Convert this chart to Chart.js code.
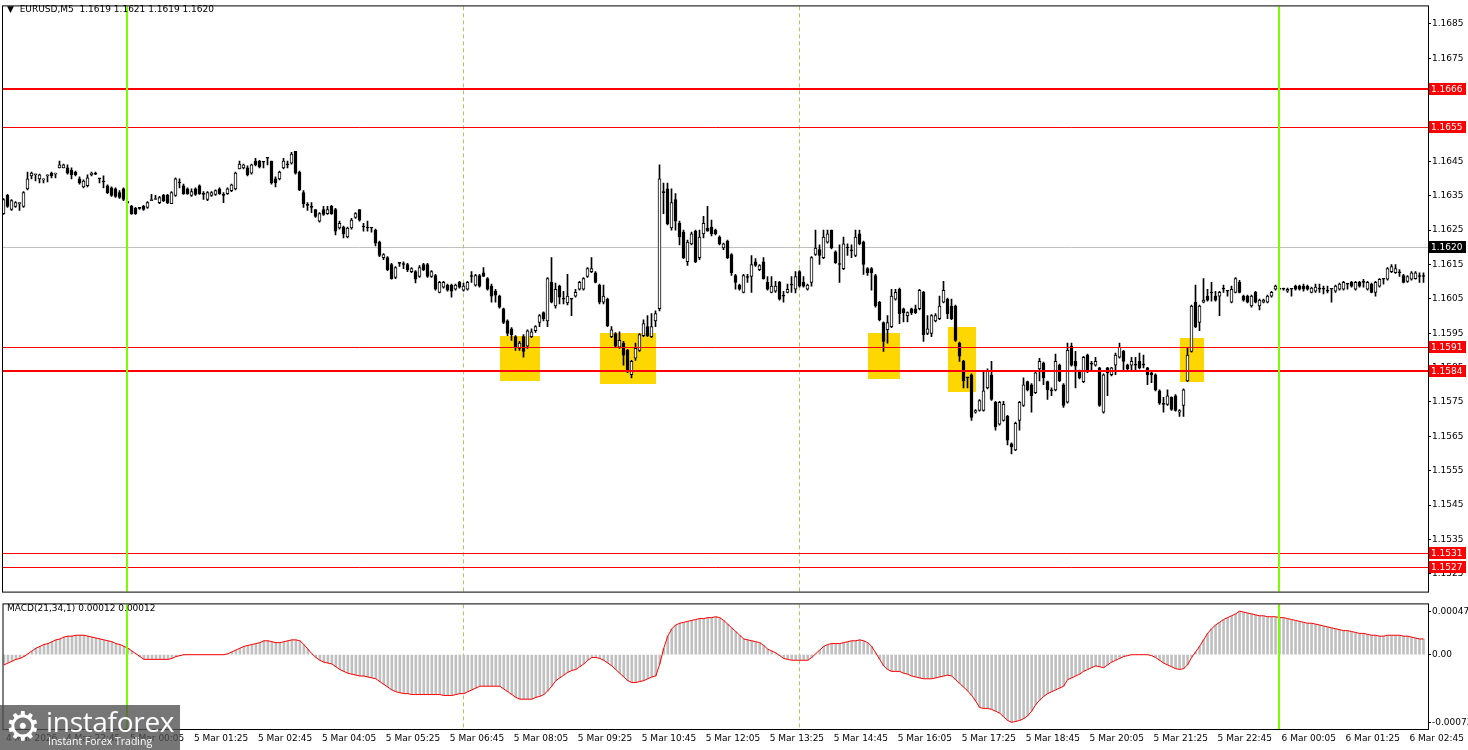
<!DOCTYPE html>
<html>
<head>
<meta charset="utf-8">
<script src="https://cdn.jsdelivr.net/npm/chart.js@4.4.1/dist/chart.umd.min.js"></script>
<style>
  body { margin: 0; background: #fff; width: 1468px; height: 750px; overflow: hidden; position: relative; font-family: "DejaVu Sans", sans-serif; }
  #main { position: absolute; left: 0; top: 0; }
  #macd { position: absolute; left: 0; top: 598px; }
  .lbl { position: absolute; font-size: 9px; color: #000; white-space: pre; }
  #wm { position: absolute; left: 0; top: 705px; width: 180px; height: 45px; background: rgba(80, 80, 80, 0.78); color: #fff; overflow: hidden; }
  #wm .gear { position: absolute; left: 5px; top: -3px; font-size: 40px; line-height: 48px; }
  #wm .name { position: absolute; left: 46px; top: 1px; font-family: "Open Sans", sans-serif; font-size: 28px; line-height: 30px; letter-spacing: -0.3px; }
  #wm .sub { position: absolute; left: 48px; top: 30px; font-family: "Open Sans", sans-serif; font-size: 10.5px; line-height: 13px; }
</style>
</head>
<body>
<canvas id="main" width="1468" height="598"></canvas>
<canvas id="macd" width="1468" height="152"></canvas>
<div class="lbl" style="left:7px;top:4px">&#9660;  EURUSD,M5  1.1619 1.1621 1.1619 1.1620</div>
<div class="lbl" style="left:7px;top:603px">MACD(21,34,1) 0.00012 0.00012</div>
<div id="wm"><span class="gear">&#9881;</span><span class="name">instaforex</span><span class="sub">Instant Forex Trading</span></div>
<script>
// bar index 0 = 5 Mar 01:25, one bar per 5 minutes
const firstBar = -47;

const openP = [
1.16298,1.16351,1.16310,1.16319,1.16327,1.16319,1.16370,1.16408,1.16411,1.16399,
1.16396,1.16408,1.16416,1.16413,1.16431,1.16431,1.16431,1.16425,1.16419,1.16399,
1.16376,1.16379,1.16411,1.16413,1.16399,1.16390,1.16379,1.16373,1.16370,1.16359,
1.16370,1.16330,1.16319,1.16313,1.16313,1.16319,1.16316,1.16336,1.16339,1.16330,
1.16351,1.16351,1.16327,1.16351,1.16387,1.16379,1.16370,1.16351,1.16370,1.16379,
1.16354,1.16339,1.16351,1.16354,1.16370,1.16351,1.16356,1.16365,1.16370,1.16428,
1.16431,1.16431,1.16416,1.16451,1.16451,1.16448,1.16459,1.16451,1.16399,1.16399,
1.16431,1.16440,1.16445,1.16479,1.16419,1.16359,1.16322,1.16316,1.16310,1.16276,
1.16310,1.16298,1.16319,1.16310,1.16256,1.16259,1.16230,1.16256,1.16287,1.16310,
1.16259,1.16256,1.16256,1.16250,1.16215,1.16170,1.16170,1.16150,1.16112,1.16153,
1.16150,1.16150,1.16129,1.16129,1.16115,1.16150,1.16150,1.16115,1.16118,1.16069,
1.16084,1.16090,1.16090,1.16078,1.16098,1.16075,1.16078,1.16115,1.16090,1.16118,
1.16126,1.16109,1.16087,1.16072,1.16058,1.16021,1.15986,1.15963,1.15940,1.15906,
1.15940,1.15912,1.15940,1.15957,1.15981,1.16010,1.15986,1.16098,1.16029,1.16087,
1.16049,1.16038,1.16049,1.16058,1.16078,1.16078,1.16115,1.16129,1.16126,1.16090,
1.16040,1.16049,1.15940,1.15949,1.15909,1.15921,1.15900,1.15829,1.15877,1.15900,
1.15943,1.15969,1.15940,1.15986,1.16021,1.16359,1.16370,1.16256,1.16339,1.16270,
1.16244,1.16158,1.16210,1.16247,1.16170,1.16239,1.16256,1.16259,1.16250,1.16230,
1.16198,1.16218,1.16179,1.16118,1.16090,1.16069,1.16112,1.16115,1.16158,1.16135,
1.16158,1.16098,1.16069,1.16072,1.16098,1.16058,1.16069,1.16090,1.16078,1.16129,
1.16098,1.16078,1.16098,1.16179,1.16193,1.16170,1.16215,1.16250,1.16187,1.16150,
1.16138,1.16198,1.16190,1.16176,1.16239,1.16215,1.16138,1.16138,1.16118,1.16040,
1.15981,1.15960,1.15969,1.16049,1.16078,1.16021,1.16001,1.16021,1.16021,1.16021,
1.16069,1.15949,1.15949,1.15986,1.15992,1.16040,1.16049,1.16029,1.16029,1.15921,
1.15868,1.15820,1.15829,1.15720,1.15725,1.15725,1.15791,1.15829,1.15749,1.15685,
1.15696,1.15708,1.15628,1.15610,1.15696,1.15740,1.15809,1.15800,1.15777,1.15846,
1.15863,1.15809,1.15782,1.15785,1.15857,1.15800,1.15749,1.15912,1.15868,1.15840,
1.15809,1.15886,1.15860,1.15857,1.15849,1.15720,1.15849,1.15829,1.15857,1.15880,
1.15897,1.15857,1.15857,1.15857,1.15868,1.15857,1.15849,1.15835,1.15829,1.15782,
1.15743,1.15743,1.15763,1.15768,1.15720,1.15740,1.15811,1.15897,1.16040,1.15981,
1.16040,1.16058,1.16067,1.16058,1.16058,1.16078,1.16072,1.16040,1.16069,1.16098,
1.16058,1.16058,1.16029,1.16069,1.16029,1.16040,1.16040,1.16058,1.16078,1.16078,
1.16078,1.16072,1.16078,1.16087,1.16087,1.16087,1.16087,1.16069,1.16072,1.16078,
1.16078,1.16072,1.16078,1.16072,1.16078,1.16078,1.16093,1.16098,1.16078,1.16098,
1.16098,1.16078,1.16093,1.16069,1.16087,1.16107,1.16107,1.16129,1.16126,1.16126,
1.16118,1.16101,1.16107,1.16109,1.16115,1.16115];

const highP = [
1.16342,1.16354,1.16339,1.16333,1.16330,1.16362,1.16419,1.16419,1.16413,1.16413,
1.16399,1.16411,1.16419,1.16416,1.16451,1.16442,1.16440,1.16431,1.16422,1.16405,
1.16396,1.16411,1.16419,1.16419,1.16399,1.16408,1.16382,1.16376,1.16373,1.16365,
1.16373,1.16333,1.16322,1.16316,1.16316,1.16322,1.16333,1.16354,1.16351,1.16348,
1.16354,1.16354,1.16362,1.16402,1.16399,1.16384,1.16373,1.16370,1.16373,1.16382,
1.16362,1.16362,1.16362,1.16367,1.16373,1.16359,1.16373,1.16384,1.16419,1.16451,
1.16442,1.16437,1.16442,1.16459,1.16453,1.16448,1.16459,1.16451,1.16405,1.16422,
1.16459,1.16451,1.16476,1.16479,1.16422,1.16365,1.16330,1.16330,1.16310,1.16301,
1.16319,1.16319,1.16322,1.16313,1.16276,1.16262,1.16259,1.16284,1.16301,1.16310,
1.16270,1.16276,1.16256,1.16253,1.16218,1.16182,1.16173,1.16153,1.16144,1.16155,
1.16158,1.16153,1.16141,1.16132,1.16147,1.16153,1.16153,1.16132,1.16121,1.16101,
1.16101,1.16093,1.16093,1.16093,1.16101,1.16096,1.16101,1.16129,1.16121,1.16121,
1.16141,1.16112,1.16093,1.16078,1.16061,1.16023,1.15989,1.15966,1.15943,1.15926,
1.15946,1.15960,1.15963,1.15972,1.16004,1.16012,1.16112,1.16170,1.16096,1.16090,
1.16072,1.16121,1.16049,1.16078,1.16101,1.16112,1.16141,1.16170,1.16129,1.16093,
1.16090,1.16052,1.15969,1.15952,1.15954,1.15926,1.15903,1.15871,1.15921,1.15949,
1.15989,1.16001,1.16007,1.16015,1.16440,1.16387,1.16387,1.16370,1.16356,1.16276,
1.16250,1.16221,1.16244,1.16250,1.16250,1.16290,1.16319,1.16279,1.16253,1.16233,
1.16212,1.16221,1.16182,1.16121,1.16093,1.16121,1.16121,1.16176,1.16167,1.16150,
1.16170,1.16115,1.16115,1.16101,1.16101,1.16072,1.16093,1.16115,1.16129,1.16132,
1.16115,1.16093,1.16173,1.16250,1.16207,1.16250,1.16250,1.16250,1.16190,1.16207,
1.16230,1.16210,1.16207,1.16250,1.16250,1.16218,1.16141,1.16141,1.16121,1.16043,
1.15983,1.16001,1.16078,1.16078,1.16081,1.16023,1.16012,1.16023,1.16032,1.16078,
1.16072,1.16001,1.16004,1.16007,1.16058,1.16101,1.16052,1.16049,1.16032,1.15924,
1.15871,1.15820,1.15832,1.15728,1.15757,1.15840,1.15846,1.15868,1.15752,1.15752,
1.15752,1.15711,1.15631,1.15691,1.15752,1.15820,1.15811,1.15803,1.15838,1.15877,
1.15866,1.15811,1.15791,1.15889,1.15860,1.15803,1.15921,1.15921,1.15897,1.15843,
1.15883,1.15889,1.15868,1.15880,1.15851,1.15832,1.15851,1.15851,1.15892,1.15921,
1.15900,1.15860,1.15880,1.15880,1.15892,1.15886,1.15851,1.15838,1.15832,1.15785,
1.15763,1.15785,1.15765,1.15771,1.15728,1.15788,1.15909,1.16032,1.16090,1.16032,
1.16109,1.16078,1.16098,1.16072,1.16072,1.16090,1.16072,1.16087,1.16112,1.16104,
1.16061,1.16061,1.16061,1.16072,1.16049,1.16049,1.16061,1.16072,1.16090,1.16081,
1.16081,1.16081,1.16078,1.16090,1.16090,1.16093,1.16090,1.16084,1.16093,1.16093,
1.16087,1.16087,1.16078,1.16090,1.16096,1.16101,1.16093,1.16101,1.16101,1.16101,
1.16107,1.16101,1.16096,1.16101,1.16109,1.16107,1.16141,1.16150,1.16150,1.16135,
1.16121,1.16118,1.16129,1.16129,1.16126,1.16126];

const lowP = [
1.16296,1.16316,1.16307,1.16316,1.16307,1.16316,1.16367,1.16399,1.16393,1.16387,
1.16387,1.16390,1.16402,1.16402,1.16431,1.16431,1.16413,1.16399,1.16408,1.16384,
1.16373,1.16376,1.16408,1.16411,1.16387,1.16373,1.16356,1.16348,1.16345,1.16342,
1.16336,1.16327,1.16296,1.16296,1.16310,1.16307,1.16313,1.16336,1.16339,1.16327,
1.16333,1.16327,1.16327,1.16348,1.16373,1.16354,1.16354,1.16348,1.16351,1.16354,
1.16339,1.16336,1.16348,1.16351,1.16354,1.16330,1.16354,1.16362,1.16367,1.16428,
1.16428,1.16408,1.16413,1.16437,1.16431,1.16431,1.16440,1.16384,1.16376,1.16396,
1.16428,1.16431,1.16442,1.16413,1.16365,1.16316,1.16307,1.16301,1.16287,1.16273,
1.16293,1.16296,1.16296,1.16236,1.16253,1.16227,1.16227,1.16253,1.16284,1.16276,
1.16247,1.16247,1.16244,1.16204,1.16173,1.16164,1.16132,1.16107,1.16109,1.16144,
1.16138,1.16129,1.16126,1.16096,1.16112,1.16132,1.16112,1.16112,1.16075,1.16067,
1.16081,1.16072,1.16055,1.16075,1.16081,1.16072,1.16075,1.16098,1.16087,1.16084,
1.16115,1.16075,1.16040,1.16040,1.16023,1.15978,1.15943,1.15929,1.15900,1.15900,
1.15880,1.15906,1.15937,1.15952,1.15969,1.15986,1.15969,1.16038,1.16023,1.16035,
1.16035,1.16032,1.16001,1.16055,1.16075,1.16075,1.16112,1.16126,1.16096,1.16035,
1.16035,1.15969,1.15937,1.15909,1.15906,1.15857,1.15835,1.15820,1.15871,1.15897,
1.15940,1.15940,1.15937,1.15969,1.16015,1.16298,1.16265,1.16250,1.16250,1.16207,
1.16167,1.16147,1.16207,1.16155,1.16164,1.16227,1.16247,1.16233,1.16236,1.16207,
1.16193,1.16167,1.16118,1.16078,1.16075,1.16067,1.16098,1.16069,1.16144,1.16132,
1.16107,1.16075,1.16067,1.16069,1.16046,1.16040,1.16067,1.16069,1.16067,1.16084,
1.16084,1.16075,1.16087,1.16176,1.16150,1.16167,1.16212,1.16195,1.16153,1.16098,
1.16135,1.16176,1.16170,1.16173,1.16207,1.16121,1.16118,1.16075,1.16026,1.15986,
1.15897,1.15921,1.15966,1.16046,1.15978,1.15983,1.15983,1.16004,1.16007,1.16018,
1.15926,1.15946,1.15940,1.15983,1.15989,1.16038,1.15992,1.15989,1.15926,1.15868,
1.15791,1.15791,1.15696,1.15717,1.15723,1.15723,1.15788,1.15754,1.15668,1.15682,
1.15694,1.15625,1.15599,1.15608,1.15668,1.15737,1.15782,1.15720,1.15774,1.15811,
1.15800,1.15757,1.15768,1.15782,1.15809,1.15734,1.15746,1.15854,1.15791,1.15817,
1.15806,1.15835,1.15843,1.15854,1.15737,1.15717,1.15768,1.15826,1.15829,1.15877,
1.15843,1.15840,1.15843,1.15843,1.15846,1.15849,1.15800,1.15806,1.15782,1.15743,
1.15720,1.15740,1.15725,1.15723,1.15708,1.15708,1.15809,1.15895,1.15966,1.15957,
1.16038,1.16043,1.16043,1.16043,1.16001,1.16069,1.16058,1.16038,1.16067,1.16067,
1.16043,1.16038,1.16026,1.16038,1.16018,1.16038,1.16038,1.16055,1.16075,1.16075,
1.16075,1.16069,1.16058,1.16075,1.16075,1.16072,1.16075,1.16067,1.16069,1.16069,
1.16064,1.16067,1.16040,1.16069,1.16075,1.16075,1.16078,1.16084,1.16075,1.16084,
1.16084,1.16075,1.16067,1.16058,1.16084,1.16093,1.16104,1.16126,1.16124,1.16115,
1.16096,1.16098,1.16104,1.16107,1.16098,1.16098];

const closeP = [
1.16339,1.16319,1.16336,1.16330,1.16330,1.16359,1.16399,1.16416,1.16413,1.16411,
1.16399,1.16411,1.16408,1.16416,1.16440,1.16440,1.16416,1.16411,1.16411,1.16387,
1.16393,1.16402,1.16416,1.16413,1.16399,1.16390,1.16359,1.16351,1.16348,1.16345,
1.16339,1.16330,1.16298,1.16298,1.16313,1.16310,1.16330,1.16339,1.16342,1.16345,
1.16336,1.16330,1.16359,1.16399,1.16387,1.16356,1.16356,1.16362,1.16354,1.16356,
1.16354,1.16359,1.16359,1.16365,1.16356,1.16351,1.16370,1.16382,1.16416,1.16442,
1.16440,1.16411,1.16440,1.16440,1.16434,1.16448,1.16459,1.16387,1.16387,1.16419,
1.16451,1.16440,1.16471,1.16416,1.16367,1.16327,1.16322,1.16316,1.16290,1.16298,
1.16296,1.16310,1.16298,1.16247,1.16270,1.16239,1.16256,1.16279,1.16298,1.16279,
1.16259,1.16256,1.16256,1.16212,1.16176,1.16179,1.16135,1.16109,1.16141,1.16153,
1.16150,1.16135,1.16138,1.16107,1.16141,1.16135,1.16115,1.16129,1.16078,1.16098,
1.16098,1.16075,1.16072,1.16090,1.16084,1.16087,1.16098,1.16115,1.16118,1.16087,
1.16115,1.16078,1.16058,1.16061,1.16026,1.15981,1.15949,1.15946,1.15909,1.15921,
1.15897,1.15957,1.15954,1.15969,1.16001,1.15992,1.16109,1.16040,1.16078,1.16055,
1.16049,1.16058,1.16049,1.16069,1.16098,1.16109,1.16138,1.16138,1.16098,1.16040,
1.16058,1.15972,1.15960,1.15912,1.15929,1.15886,1.15840,1.15868,1.15906,1.15946,
1.15978,1.15943,1.15969,1.16007,1.16399,1.16359,1.16268,1.16330,1.16276,1.16230,
1.16170,1.16215,1.16239,1.16158,1.16230,1.16270,1.16247,1.16239,1.16239,1.16210,
1.16210,1.16170,1.16126,1.16098,1.16078,1.16118,1.16112,1.16150,1.16147,1.16147,
1.16109,1.16078,1.16087,1.16087,1.16049,1.16058,1.16078,1.16090,1.16115,1.16087,
1.16087,1.16090,1.16170,1.16198,1.16176,1.16230,1.16239,1.16198,1.16155,1.16150,
1.16210,1.16198,1.16190,1.16230,1.16210,1.16150,1.16126,1.16126,1.16029,1.15989,
1.15926,1.15981,1.16058,1.16069,1.16007,1.16010,1.16010,1.16010,1.16010,1.16075,
1.15946,1.15963,1.16001,1.16001,1.16029,1.16075,1.16007,1.15992,1.15929,1.15883,
1.15811,1.15820,1.15705,1.15725,1.15754,1.15782,1.15840,1.15757,1.15677,1.15749,
1.15743,1.15639,1.15619,1.15688,1.15749,1.15800,1.15785,1.15768,1.15835,1.15868,
1.15820,1.15785,1.15782,1.15868,1.15811,1.15740,1.15900,1.15857,1.15854,1.15820,
1.15880,1.15843,1.15860,1.15868,1.15740,1.15829,1.15835,1.15849,1.15886,1.15909,
1.15868,1.15846,1.15868,1.15857,1.15849,1.15857,1.15829,1.15829,1.15785,1.15746,
1.15743,1.15768,1.15728,1.15725,1.15725,1.15785,1.15886,1.16029,1.15969,1.16029,
1.16046,1.16046,1.16067,1.16046,1.16069,1.16078,1.16072,1.16078,1.16109,1.16069,
1.16046,1.16040,1.16058,1.16040,1.16046,1.16046,1.16058,1.16069,1.16087,1.16078,
1.16078,1.16078,1.16078,1.16078,1.16078,1.16078,1.16078,1.16081,1.16084,1.16078,
1.16078,1.16072,1.16078,1.16087,1.16093,1.16098,1.16093,1.16087,1.16098,1.16087,
1.16098,1.16098,1.16069,1.16098,1.16107,1.16107,1.16138,1.16144,1.16138,1.16126,
1.16098,1.16115,1.16126,1.16126,1.16115,1.16115];

const macdVals = [
-0.00011,-0.00009,-0.00007,-0.00005,-0.00004,-0.00002,0.00001,0.00004,0.00007,0.00009,
0.00011,0.00012,0.00014,0.00016,0.00017,0.00019,0.00020,0.00020,0.00021,0.00021,
0.00021,0.00020,0.00019,0.00018,0.00017,0.00016,0.00015,0.00014,0.00012,0.00011,
0.00009,0.00007,0.00004,0.00001,-0.00002,-0.00005,-0.00005,-0.00005,-0.00005,-0.00005,
-0.00005,-0.00005,-0.00004,-0.00002,-0.00001,0,0,0,0,0,
0,0,0,0,0,0,0.00001,0.00003,0.00005,0.00007,
0.00009,0.00010,0.00011,0.00012,0.00013,0.00015,0.00015,0.00014,0.00013,0.00013,
0.00014,0.00015,0.00016,0.00016,0.00015,0.00011,0.00006,0.00001,-0.00003,-0.00006,
-0.00008,-0.00009,-0.00010,-0.00013,-0.00016,-0.00018,-0.00020,-0.00021,-0.00022,-0.00023,
-0.00023,-0.00024,-0.00025,-0.00026,-0.00029,-0.00032,-0.00035,-0.00038,-0.00040,-0.00041,
-0.00042,-0.00042,-0.00043,-0.00043,-0.00043,-0.00043,-0.00043,-0.00043,-0.00043,-0.00043,
-0.00044,-0.00044,-0.00044,-0.00043,-0.00042,-0.00042,-0.00040,-0.00038,-0.00036,-0.00034,
-0.00034,-0.00034,-0.00034,-0.00034,-0.00034,-0.00037,-0.00040,-0.00043,-0.00046,-0.00048,
-0.00048,-0.00048,-0.00048,-0.00046,-0.00045,-0.00043,-0.00039,-0.00034,-0.00028,-0.00025,
-0.00022,-0.00019,-0.00017,-0.00016,-0.00013,-0.00010,-0.00006,-0.00003,-0.00003,-0.00004,
-0.00006,-0.00009,-0.00012,-0.00016,-0.00020,-0.00024,-0.00028,-0.00030,-0.00030,-0.00029,
-0.00028,-0.00026,-0.00024,-0.00023,-0.00010,0.00007,0.00020,0.00028,0.00032,0.00034,
0.00035,0.00036,0.00037,0.00038,0.00039,0.00039,0.00040,0.00040,0.00041,0.00040,
0.00037,0.00033,0.00029,0.00025,0.00021,0.00017,0.00016,0.00015,0.00014,0.00013,
0.00010,0.00006,0.00004,0.00002,-0.00001,-0.00004,-0.00005,-0.00006,-0.00006,-0.00006,
-0.00006,-0.00006,-0.00003,0.00001,0.00005,0.00009,0.00011,0.00012,0.00012,0.00012,
0.00013,0.00014,0.00015,0.00015,0.00016,0.00015,0.00013,0.00009,0.00002,-0.00005,
-0.00012,-0.00016,-0.00018,-0.00018,-0.00018,-0.00020,-0.00021,-0.00023,-0.00024,-0.00025,
-0.00026,-0.00026,-0.00026,-0.00025,-0.00024,-0.00023,-0.00022,-0.00023,-0.00027,-0.00031,
-0.00035,-0.00039,-0.00044,-0.00050,-0.00057,-0.00058,-0.00058,-0.00059,-0.00061,-0.00063,
-0.00067,-0.00071,-0.00073,-0.00072,-0.00071,-0.00069,-0.00066,-0.00061,-0.00054,-0.00049,
-0.00045,-0.00042,-0.00040,-0.00038,-0.00036,-0.00034,-0.00027,-0.00025,-0.00023,-0.00021,
-0.00018,-0.00016,-0.00014,-0.00012,-0.00013,-0.00014,-0.00011,-0.00008,-0.00006,-0.00004,
-0.00002,-0.00001,0,0,0,0,0,-0.00001,-0.00003,-0.00006,
-0.00009,-0.00011,-0.00013,-0.00015,-0.00016,-0.00015,-0.00011,-0.00003,0.00003,0.00009,
0.00016,0.00023,0.00028,0.00032,0.00035,0.00038,0.00040,0.00042,0.00044,0.00047,
0.00046,0.00045,0.00044,0.00043,0.00042,0.00042,0.00041,0.00041,0.00041,0.00040,
0.00040,0.00039,0.00038,0.00037,0.00036,0.00035,0.00034,0.00034,0.00033,0.00032,
0.00031,0.00030,0.00029,0.00028,0.00027,0.00026,0.00026,0.00025,0.00024,0.00023,
0.00023,0.00022,0.00021,0.00021,0.00020,0.00020,0.00021,0.00021,0.00021,0.00021,
0.00020,0.00020,0.00019,0.00018,0.00017,0.00017];

const timeTickIdx = [-47, -32, -16, 0, 16, 32, 48, 64, 80, 96, 112, 128, 144, 160, 176, 192, 208, 224, 240, 256, 272, 288, 304];
const timeTickText = ['4 Mar 2026', '4 Mar 22:45', '5 Mar 00:05', '5 Mar 01:25', '5 Mar 02:45', '5 Mar 04:05', '5 Mar 05:25',
  '5 Mar 06:45', '5 Mar 08:05', '5 Mar 09:25', '5 Mar 10:45', '5 Mar 12:05', '5 Mar 13:25', '5 Mar 14:45', '5 Mar 16:05',
  '5 Mar 17:25', '5 Mar 18:45', '5 Mar 20:05', '5 Mar 21:25', '5 Mar 22:45', '6 Mar 00:05', '6 Mar 01:25', '6 Mar 02:45'];
const priceTicks = [1.1525, 1.1535, 1.1545, 1.1555, 1.1565, 1.1575, 1.1585, 1.1595, 1.1605, 1.1615, 1.1625, 1.1635, 1.1645, 1.1655, 1.1665, 1.1675, 1.1685];
const macdTicks = [-0.00073, 0, 0.00047];

const levelPrices = [1.1666, 1.1655, 1.1591, 1.1584, 1.1531, 1.1527];
const thickLevels = [1.1666, 1.1584];
const bidPrice = 1.1620;
const dayLines = [-16, 272];
const gridLines = [68, 152];
const zoneFrom = [77, 102, 169, 189, 247];
const zoneTo = [87, 116, 177, 196, 253];
const zoneTop = [1.15943, 1.15952, 1.15952, 1.15969, 1.15935];
const zoneBottom = [1.15811, 1.15803, 1.15817, 1.15780, 1.15809];

Chart.defaults.font.family = "'DejaVu Sans', sans-serif";
Chart.defaults.font.size = 9;
Chart.defaults.color = '#000';
Chart.defaults.animation = false;

const xMin = -47.125, xMax = 309.125;

function vLines(chart, list, color, width, dash) {
  const { ctx, chartArea: a, scales: { x } } = chart;
  ctx.save();
  ctx.strokeStyle = color;
  ctx.lineWidth = width;
  ctx.setLineDash(dash);
  list.forEach(t => {
    let px = Math.floor(x.getPixelForValue(t));
    if (width % 2) px += 0.5;
    ctx.beginPath();
    ctx.moveTo(px, a.top);
    ctx.lineTo(px, a.bottom);
    ctx.stroke();
  });
  ctx.restore();
}

function frame(chart) {
  const { ctx, chartArea: a } = chart;
  ctx.save();
  ctx.strokeStyle = '#000';
  ctx.lineWidth = 1;
  ctx.strokeRect(a.left - 0.5, a.top - 0.5, a.right - a.left + 1, a.bottom - a.top + 1);
  ctx.restore();
}

function priceTag(chart, price, bg) {
  const { ctx, chartArea: a, scales: { y } } = chart;
  const py = Math.round(y.getPixelForValue(price));
  ctx.fillStyle = bg;
  ctx.fillRect(a.right + 1, py - 6, 37, 12);
  ctx.fillStyle = '#fff';
  ctx.textAlign = 'left';
  ctx.textBaseline = 'middle';
  ctx.font = "9px 'DejaVu Sans'";
  ctx.fillText(price.toFixed(4), a.right + 3, py + 0.5);
}

const mainOverlay = {
  id: 'mainOverlay',
  beforeDatasetsDraw(chart) {
    const { ctx, chartArea: a, scales: { x, y } } = chart;
    ctx.save();
    ctx.beginPath();
    ctx.rect(a.left, a.top, a.right - a.left, a.bottom - a.top);
    ctx.clip();
    ctx.fillStyle = '#FFD700';
    zoneFrom.forEach((t, k) => {
      const x1 = Math.round(x.getPixelForValue(t)), x2 = Math.round(x.getPixelForValue(zoneTo[k]));
      const y1 = Math.round(y.getPixelForValue(zoneTop[k])), y2 = Math.round(y.getPixelForValue(zoneBottom[k]));
      ctx.fillRect(x1, y1, x2 - x1, y2 - y1);
    });
    ctx.strokeStyle = '#C0C0C0';
    ctx.lineWidth = 1;
    const by = Math.round(y.getPixelForValue(bidPrice)) + 0.5;
    ctx.beginPath(); ctx.moveTo(a.left, by); ctx.lineTo(a.right, by); ctx.stroke();
    ctx.restore();
    vLines(chart, gridLines, '#9ad35a', 1, [4, 3]);
  },
  afterDatasetsDraw(chart) {
    const { ctx, chartArea: a, scales: { y } } = chart;
    ctx.save();
    ctx.strokeStyle = '#FF0000';
    levelPrices.forEach(p => {
      const thick = thickLevels.includes(p);
      ctx.lineWidth = thick ? 2 : 1;
      const py = Math.round(y.getPixelForValue(p)) + (thick ? 0 : 0.5);
      ctx.beginPath(); ctx.moveTo(a.left, py); ctx.lineTo(a.right, py); ctx.stroke();
    });
    ctx.restore();
    vLines(chart, dayLines, '#7CFC00', 2, []);
  },
  afterDraw(chart) {
    frame(chart);
    const { ctx } = chart;
    ctx.save();
    levelPrices.forEach(p => priceTag(chart, p, '#FF0000'));
    priceTag(chart, bidPrice, '#000');
    ctx.restore();
  }
};

const macdOverlay = {
  id: 'macdOverlay',
  beforeDatasetsDraw(chart) { vLines(chart, gridLines, '#9ad35a', 1, [4, 3]); },
  afterDatasetsDraw(chart) { vLines(chart, dayLines, '#7CFC00', 2, []); },
  afterDraw(chart) { frame(chart); }
};

const bull = k => closeP[k] > openP[k];

new Chart(document.getElementById('main'), {
  type: 'bar',
  data: {
    datasets: [
      {
        label: 'body',
        data: openP.map((o, k) => ({ x: firstBar + k, y: [o, closeP[k]] })),
        backgroundColor: c => bull(c.dataIndex) ? '#ffffff' : '#000000',
        borderColor: '#000',
        borderWidth: 1,
        borderSkipped: false,
        barThickness: 3,
        minBarLength: 1,
        grouped: false
      },
      {
        label: 'wick',
        data: highP.map((h, k) => ({ x: firstBar + k, y: [lowP[k], h] })),
        backgroundColor: '#000',
        borderWidth: 0,
        barThickness: 1,
        minBarLength: 1,
        grouped: false
      }
    ]
  },
  options: {
    responsive: false,
    events: [],
    layout: { padding: { left: 3, top: 3, right: 0, bottom: 1 } },
    plugins: { legend: { display: false }, tooltip: { enabled: false } },
    scales: {
      x: { type: 'linear', display: false, min: xMin, max: xMax, offset: false },
      y: {
        position: 'right', min: 1.15198, max: 1.16901, beginAtZero: false,
        afterFit: s => { s.width = 40; },
        afterBuildTicks: s => { s.ticks = priceTicks.map(v => ({ value: v })); },
        ticks: { padding: 1, callback: v => v.toFixed(4), font: { size: 9 }, color: '#000' },
        grid: { drawOnChartArea: false, drawTicks: true, tickLength: 3, color: '#000' },
        border: { display: false }
      }
    }
  },
  plugins: [mainOverlay]
});

new Chart(document.getElementById('macd'), {
  type: 'bar',
  data: {
    datasets: [
      {
        type: 'line',
        label: 'signal',
        data: macdVals.map((v, k) => ({ x: firstBar + k, y: v })),
        borderColor: '#FF0000',
        borderWidth: 1,
        pointRadius: 0,
        tension: 0
      },
      {
        label: 'MACD',
        data: macdVals.map((v, k) => ({ x: firstBar + k, y: v })),
        backgroundColor: '#C0C0C0',
        borderWidth: 0,
        barThickness: 2,
        grouped: false
      }
    ]
  },
  options: {
    responsive: false,
    events: [],
    layout: { padding: { left: 3, top: 1, right: 0, bottom: 0 } },
    plugins: { legend: { display: false }, tooltip: { enabled: false } },
    scales: {
      x: {
        type: 'linear', min: xMin, max: xMax, offset: false,
        afterFit: s => { s.height = 21; },
        afterBuildTicks: s => { s.ticks = timeTickIdx.map(v => ({ value: v })); },
        ticks: {
          align: 'start', labelOffset: 2, padding: 4, maxRotation: 0, autoSkip: false,
          font: { size: 9 }, color: '#000',
          callback: v => timeTickText[timeTickIdx.indexOf(v)]
        },
        grid: { display: false, drawTicks: false },
        border: { display: false }
      },
      y: {
        position: 'right', min: -0.000802, max: 0.000543, beginAtZero: false,
        afterFit: s => { s.width = 40; },
        afterBuildTicks: s => { s.ticks = macdTicks.map(v => ({ value: v })); },
        ticks: { padding: 1, callback: v => v === 0 ? '0.00' : v.toFixed(5), font: { size: 9 }, color: '#000' },
        grid: { drawOnChartArea: false, drawTicks: true, tickLength: 3, color: '#000' },
        border: { display: false }
      }
    }
  },
  plugins: [macdOverlay]
});
</script>
</body>
</html>
